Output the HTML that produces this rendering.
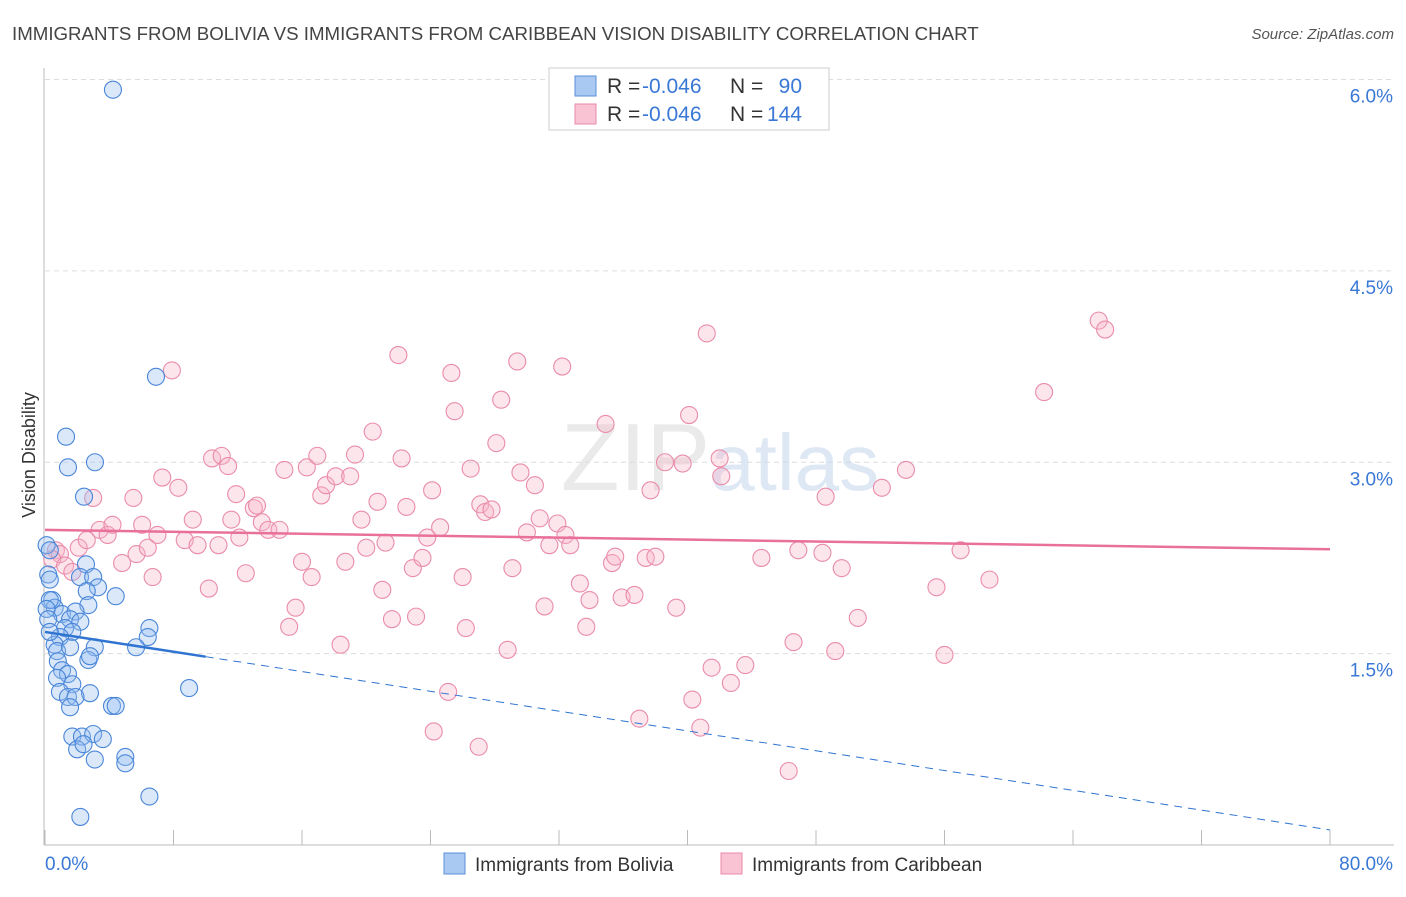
<!DOCTYPE html>
<html><head><meta charset="utf-8"><style>
body{margin:0;background:#fff;font-family:"Liberation Sans",sans-serif}
svg text{font-family:"Liberation Sans",sans-serif}
</style></head><body>
<svg id="chart" width="1406" height="892">
<text x="12" y="40" font-size="18.7" fill="#444">IMMIGRANTS FROM BOLIVIA VS IMMIGRANTS FROM CARIBBEAN VISION DISABILITY CORRELATION CHART</text>
<text x="1394" y="39" font-size="15" fill="#555" font-style="italic" text-anchor="end">Source: ZipAtlas.com</text>
<text x="35" y="455" font-size="18" fill="#333" text-anchor="middle" transform="rotate(-90 35 455)">Vision Disability</text>
<g id="grid"></g>
<text x="720" y="490" font-size="96" fill="#ddd" text-anchor="middle" font-family="Liberation Serif" opacity="0.6">ZIP<tspan fill="#c9d8ee" font-family="Liberation Sans" font-size="80">atlas</tspan></text>
<g id="pts"></g>
<g id="lines"></g>
<g>
<rect x="549" y="68" width="280" height="62" fill="#fff" stroke="#ccc"/>
<rect x="575" y="76" width="21" height="20" fill="#a9c8f2" stroke="#5b8fd9"/>
<rect x="575" y="104" width="21" height="20" fill="#f9c3d3" stroke="#e88aa8"/>
<text x="607" y="93" font-size="21" fill="#333">R =</text>
<text x="642" y="93" font-size="21" fill="#3a78d6">-0.046</text>
<text x="730" y="93" font-size="21" fill="#333">N =</text>
<text x="802" y="93" font-size="21" fill="#3a78d6" text-anchor="end">90</text>
<text x="607" y="121" font-size="21" fill="#333">R =</text>
<text x="642" y="121" font-size="21" fill="#3a78d6">-0.046</text>
<text x="730" y="121" font-size="21" fill="#333">N =</text>
<text x="802" y="121" font-size="21" fill="#3a78d6" text-anchor="end">144</text>
</g>
<g>
<rect x="444" y="853" width="21" height="21" fill="#a9c8f2" stroke="#5b8fd9"/>
<text x="475" y="871" font-size="19" fill="#333">Immigrants from Bolivia</text>
<rect x="721" y="853" width="21" height="21" fill="#f9c3d3" stroke="#e88aa8"/>
<text x="752" y="871" font-size="19" fill="#333">Immigrants from Caribbean</text>
</g>
<text x="45" y="870" font-size="19" fill="#3a78d6">0.0%</text>
<text x="1393" y="870" font-size="19" fill="#3a78d6" text-anchor="end">80.0%</text>
</svg>
<script>
const yTicks=[1.5,3.0,4.5,6.0];
const yTickLabels=["1.5%","3.0%","4.5%","6.0%"];
const xTicks=[0,8,16,24,32,40,48,56,64,72,80];
const boliviaX=[4.23,6.91,1.31,1.43,3.11,2.43,0.1,0.3,0.2,0.3,2.55,2.18,3.0,3.3,4.4,2.6,2.7,0.45,0.6,1.06,1.9,1.56,2.2,1.25,1.7,0.93,6.5,6.4,5.67,3.1,0.6,0.75,1.56,2.7,2.8,0.8,1.06,1.43,0.75,1.7,0.93,2.8,1.43,1.9,8.97,1.56,4.17,4.4,1.7,2.3,3.0,3.6,2.0,2.4,3.1,5.0,5.0,6.5,2.2,0.3,0.1,0.2,0.3];
const boliviaY=[5.92,3.67,3.20,2.96,3.00,2.73,2.35,2.31,2.12,2.08,2.20,2.10,2.10,2.02,1.95,1.99,1.88,1.92,1.86,1.81,1.83,1.77,1.75,1.70,1.67,1.63,1.70,1.63,1.55,1.55,1.57,1.52,1.55,1.45,1.48,1.44,1.37,1.34,1.31,1.26,1.20,1.19,1.16,1.16,1.23,1.08,1.09,1.09,0.85,0.85,0.87,0.83,0.75,0.79,0.67,0.69,0.64,0.38,0.22,1.92,1.85,1.77,1.67];
const caribX=[0.68,0.93,0.45,1.25,1.7,2.1,2.6,3.0,3.4,3.9,4.2,4.8,5.5,5.7,6.05,6.4,6.7,7.0,7.3,7.9,8.3,8.7,9.2,9.5,10.2,10.4,10.8,11.0,11.4,11.6,11.9,12.1,12.5,13.0,13.2,13.5,13.9,14.6,14.9,15.2,15.6,16.0,16.3,16.6,16.95,17.2,17.5,18.1,18.4,18.7,19.0,19.3,19.7,20.0,20.4,20.7,21.0,21.2,21.6,22.0,22.2,22.5,22.9,23.1,23.5,23.8,24.1,24.6,25.1,25.3,25.5,26.0,26.2,26.5,27.0,27.1,27.4,27.8,28.1,28.4,28.8,29.1,29.4,29.6,30.0,30.5,30.8,31.1,31.4,31.9,32.2,32.4,32.7,33.3,33.7,33.9,34.9,35.3,35.5,35.9,36.7,37.0,37.4,37.7,38.0,38.6,39.3,39.7,40.1,40.3,40.8,41.2,41.5,42.0,42.1,42.7,43.6,44.6,46.3,46.6,46.9,48.6,48.4,49.2,49.6,50.6,52.1,53.6,55.5,56.0,57.0,58.8,62.2,65.6,66.0,24.2];
const caribY=[2.31,2.28,2.24,2.19,2.14,2.33,2.39,2.72,2.47,2.43,2.51,2.21,2.72,2.28,2.51,2.33,2.10,2.43,2.88,3.72,2.80,2.39,2.55,2.35,2.01,3.03,2.35,3.05,2.97,2.55,2.75,2.41,2.13,2.64,2.66,2.53,2.47,2.47,2.94,1.71,1.86,2.22,2.96,2.10,3.05,2.74,2.82,2.89,1.57,2.22,2.89,3.06,2.55,2.33,3.24,2.69,2.0,2.37,1.77,3.84,3.03,2.65,2.17,1.79,2.25,2.41,2.78,2.49,1.20,3.70,3.40,2.10,1.70,2.95,0.77,2.67,2.61,2.63,3.15,3.49,1.53,2.17,3.79,2.92,2.45,2.82,2.56,1.87,2.35,2.52,3.75,2.43,2.35,2.05,1.71,1.92,3.30,2.21,2.26,1.94,1.96,0.99,2.25,2.78,2.26,3.0,1.86,2.99,3.37,1.14,0.92,4.01,1.39,3.03,2.89,1.27,1.41,2.25,0.58,1.59,2.31,2.73,2.29,1.52,2.17,1.78,2.80,2.94,2.02,1.49,2.31,2.08,3.55,4.11,4.04,0.89];
const boliviaTrend=[1.67,-0.0194]; // intercept, slope per %
const caribTrend=[2.47,-0.0019];

const X=v=>45+v/80*1285;
const Y=v=>845-v/6*765.5;
const NS="http://www.w3.org/2000/svg";
function mk(tag,attrs,parent){const e=document.createElementNS(NS,tag);for(const k in attrs)e.setAttribute(k,attrs[k]);parent.appendChild(e);return e;}
const grid=document.getElementById('grid');
yTicks.forEach((t,i)=>{
  const l=mk('line',{x1:45,x2:1394,y1:Y(t),y2:Y(t),stroke:'#ddd','stroke-dasharray':'5,4'},grid);
  
  
  const tx=mk('text',{x:1393,y:Y(t)+23,'font-size':19,fill:'#3a78d6','text-anchor':'end'},grid);
  tx.textContent=yTickLabels[i];
  
  
});
const ax=mk('line',{x1:44,x2:44,y1:68,y2:845,stroke:'#bbb'},grid);


const bx=mk('line',{x1:44,x2:1394,y1:845,y2:845,stroke:'#bbb'},grid);


xTicks.forEach(t=>{
  const l=mk('line',{x1:X(t),x2:X(t),y1:830,y2:845,stroke:'#bbb'},grid);
  
  
});
const pts=document.getElementById('pts');
caribX.forEach((x,i)=>{
  const c=mk('circle',{cx:X(x),cy:Y(caribY[i]),r:8.5,fill:'rgba(248,180,200,0.35)',stroke:'#e98cab','stroke-width':1.1},pts);
  
  
});
boliviaX.forEach((x,i)=>{
  const c=mk('circle',{cx:X(x),cy:Y(boliviaY[i]),r:8.5,fill:'rgba(150,190,240,0.35)',stroke:'#4a86d8','stroke-width':1.1},pts);
  
  
});
const lines=document.getElementById('lines');
const f=(tr,v)=>tr[0]+tr[1]*v;
let l1=mk('line',{x1:X(0),y1:Y(f(boliviaTrend,0)),x2:X(10),y2:Y(f(boliviaTrend,10)),stroke:'#2f74d0','stroke-width':2.5},lines);


let l2=mk('line',{x1:X(10),y1:Y(f(boliviaTrend,10)),x2:X(80),y2:Y(f(boliviaTrend,80)),stroke:'#2f74d0','stroke-width':1,'stroke-dasharray':'8,6'},lines);


let l3=mk('line',{x1:X(0),y1:Y(f(caribTrend,0)),x2:X(80),y2:Y(f(caribTrend,80)),stroke:'#e8709a','stroke-width':2.5},lines);


</script>
</body></html>
